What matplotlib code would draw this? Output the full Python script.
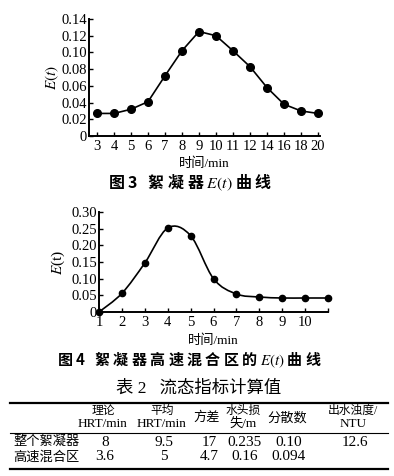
import matplotlib
matplotlib.use("Agg")
import numpy as np
import matplotlib.pyplot as plt
from matplotlib.path import Path
from matplotlib.patches import PathPatch
from matplotlib.lines import Line2D

plt.rcParams['font.family'] = ['Liberation Serif', 'Noto Sans CJK SC']
plt.rcParams['mathtext.fontset'] = 'stix'

# Fig. 3 data (whole flocculator)
t3_labels = ['3', '4', '5', '6', '7', '8', '9', '10', '11', '12', '14', '16', '18', '20']
e3 = [0.027, 0.027, 0.032, 0.041, 0.072, 0.102, 0.125, 0.120, 0.102, 0.083,
      0.058, 0.038, 0.030, 0.027]

# Fig. 4 data (high-speed mixing zone)
t4 = [1, 2, 3, 4, 5, 6, 7, 8, 9, 10, 11]
e4 = [0.0, 0.056, 0.147, 0.252, 0.229, 0.100, 0.054, 0.045, 0.042, 0.042, 0.042]

# Table 2
col_heads = [['理论', 'HRT/min'], ['平均', 'HRT/min'], ['方差'], ['水头损', '失/m'],
             ['分散数'], ['出水浊度/', 'NTU']]
row_names = ['整个絮凝器', '高速混合区']
table_vals = [['8', '9.5', '17', '0.235', '0.10', '12.6'],
              ['3.6', '5', '4.7', '0.16', '0.094', '']]

W, H = 394, 476
fig = plt.figure(figsize=(W / 100, H / 100), dpi=100)
cap_font = ['Noto Sans CJK SC', 'DejaVu Sans']


def fx(x):
    return x / W


def fy(y):
    return 1 - y / H


def style_axes(ax):
    for s in ['top', 'right']:
        ax.spines[s].set_visible(False)
    for s in ['left', 'bottom']:
        ax.spines[s].set_linewidth(1.4)
    ax.tick_params(direction='in', length=3, width=1.0, labelsize=10.5)
    ax.tick_params(axis='y', pad=1.5)
    ax.tick_params(axis='x', pad=3)


# ---- Fig. 3 ----
ax1 = fig.add_axes([fx(89), fy(136), fx(320 - 89), (136 - 19) / H])
pos = np.arange(len(t3_labels))
ax1.plot(pos, e3, 'k-', lw=1.2, marker='o', ms=5.5, clip_on=False)
ax1.set_xlim(-0.47, len(t3_labels) - 1 + 0.12)
ax1.set_ylim(0, 0.14)
ax1.set_xticks(pos)
ax1.set_xticklabels(t3_labels)
ax1.set_yticks(np.arange(0, 0.141, 0.02))
ax1.set_yticklabels(['0'] + ['%.2f' % v for v in np.arange(0.02, 0.141, 0.02)])
style_axes(ax1)
ax1.set_ylabel('$E(t)$', fontsize=11, labelpad=0)
ax1.set_xlabel('时间/min', fontsize=9.5, labelpad=3)
fig.text(fx(190), fy(183), '图 3   絮 凝 器 $E(t)$ 曲 线', ha='center', va='center',
         fontsize=11.5, family=cap_font, fontweight='bold')

# ---- Fig. 4 ----
ax2 = fig.add_axes([fx(99), fy(312), fx(328 - 99), (312 - 212) / H])
pts = np.column_stack([t4, e4])
# smooth curve through points (Catmull-Rom as cubic Bezier segments)
verts = [tuple(pts[0])]
codes = [Path.MOVETO]
n = len(pts)
for i in range(n - 1):
    p0 = pts[max(i - 1, 0)]
    p1 = pts[i]
    p2 = pts[i + 1]
    p3 = pts[min(i + 2, n - 1)]
    c1 = p1 + (p2 - p0) / 6
    c2 = p2 - (p3 - p1) / 6
    verts += [tuple(c1), tuple(c2), tuple(p2)]
    codes += [Path.CURVE4] * 3
ax2.add_patch(PathPatch(Path(verts, codes), fill=False, lw=1.2, edgecolor='k', clip_on=False))
ax2.plot(t4, e4, 'ko', ms=4.5, clip_on=False)
ax2.set_xlim(1, 11)
ax2.set_ylim(0, 0.30)
ax2.set_xticks(t4)
ax2.set_xticklabels([str(t) for t in t4[:-1]] + [''])
ax2.set_yticks(np.arange(0, 0.301, 0.05))
ax2.set_yticklabels(['0'] + ['%.2f' % v for v in np.arange(0.05, 0.301, 0.05)])
style_axes(ax2)
ax2.set_ylabel('$E$(t)', fontsize=11, labelpad=3)
ax2.set_xlabel('时间/min', fontsize=9.5, labelpad=4)
fig.text(fx(189), fy(360), '图 4   絮 凝 器 高 速 混 合 区 的 $E(t)$ 曲 线', ha='center',
         va='center', fontsize=10.8, family=cap_font, fontweight='bold')

# ---- Table 2 ----
fig.text(fx(199), fy(389), '表 2   流态指标计算值', ha='center', va='center', fontsize=12.5)
for y, lw in [(403, 1.6), (433, 0.8), (469, 1.6)]:
    fig.add_artist(Line2D([fx(10), fx(388)], [fy(y), fy(y)], color='k', lw=lw,
                          transform=fig.transFigure))

col_x = [103, 162, 207, 243, 287, 353]
for cx, head in zip(col_x, col_heads):
    if len(head) == 2:
        fig.text(fx(cx), fy(411), head[0], ha='center', va='center', fontsize=8.5)
        fig.text(fx(cx), fy(424), head[1], ha='center', va='center', fontsize=9.5)
    else:
        fig.text(fx(cx), fy(418), head[0], ha='center', va='center', fontsize=9.5)

row_y = [442, 457]
for ry, name, vals in zip(row_y, row_names, table_vals):
    fig.text(fx(13), fy(ry), name, ha='left', va='center', fontsize=9.5)
    for cx, v in zip(col_x, vals):
        fig.text(fx(cx + 2), fy(ry), v, ha='center', va='center', fontsize=11)

fig.savefig('out.png', dpi=100, facecolor='white')
